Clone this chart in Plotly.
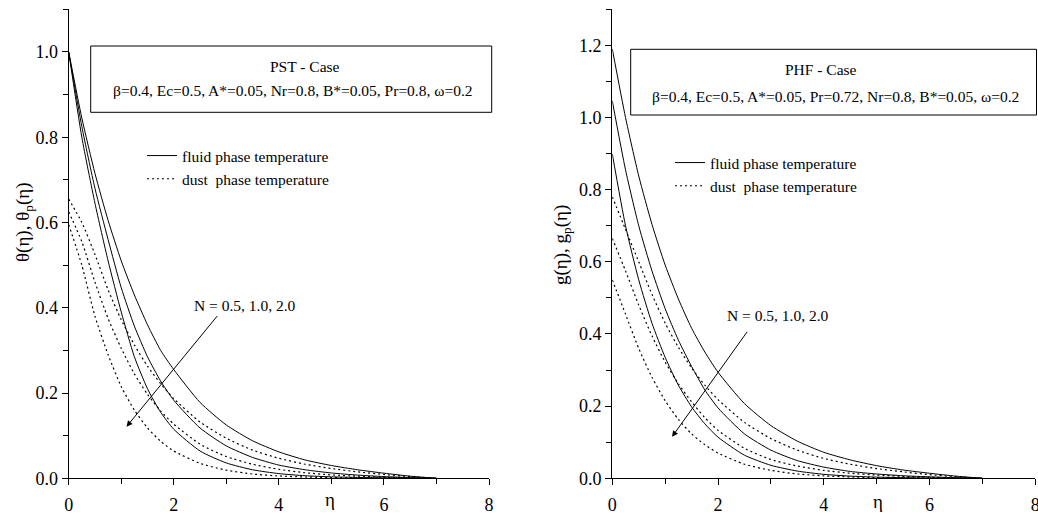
import plotly.graph_objects as go

W, H = 1038, 518

eta = [0, 0.25, 0.5, 0.75, 1.0, 1.25, 1.5, 1.75, 2.0, 2.5, 3.0, 3.5, 4.0, 4.5, 5.0, 5.5, 6.0, 6.5, 7.0]

# PST case (left): fluid theta and dust theta_p for N = 0.5, 1.0, 2.0
theta_N05 = [1.0, 0.845, 0.715, 0.605, 0.51, 0.43, 0.36, 0.30, 0.255, 0.178, 0.125, 0.088, 0.062, 0.043, 0.030, 0.020, 0.012, 0.005, 0.0]
theta_N10 = [1.0, 0.825, 0.68, 0.56, 0.447, 0.357, 0.285, 0.228, 0.183, 0.118, 0.076, 0.049, 0.031, 0.020, 0.0125, 0.0075, 0.004, 0.0017, 0.0]
theta_N20 = [1.0, 0.80, 0.645, 0.51, 0.39, 0.285, 0.21, 0.155, 0.115, 0.064, 0.036, 0.020, 0.011, 0.006, 0.0035, 0.002, 0.001, 0.0004, 0.0]
thetap_N05 = [0.655, 0.60, 0.525, 0.442, 0.372, 0.313, 0.263, 0.222, 0.187, 0.132, 0.094, 0.066, 0.047, 0.033, 0.023, 0.015, 0.009, 0.004, 0.0]
thetap_N10 = [0.625, 0.555, 0.46, 0.375, 0.305, 0.245, 0.197, 0.158, 0.127, 0.080, 0.051, 0.033, 0.021, 0.013, 0.008, 0.005, 0.0025, 0.001, 0.0]
thetap_N20 = [0.595, 0.50, 0.38, 0.29, 0.215, 0.16, 0.118, 0.087, 0.064, 0.035, 0.019, 0.010, 0.0055, 0.003, 0.0016, 0.0008, 0.0004, 0.0001, 0.0]

# PHF case (right): fluid g and dust g_p for N = 0.5, 1.0, 2.0
g_N05 = [1.19, 1.0, 0.838, 0.704, 0.591, 0.497, 0.416, 0.350, 0.294, 0.207, 0.146, 0.103, 0.072, 0.051, 0.035, 0.023, 0.014, 0.006, 0.0]
g_N10 = [1.046, 0.855, 0.70, 0.575, 0.47, 0.383, 0.31, 0.245, 0.195, 0.123, 0.078, 0.049, 0.031, 0.019, 0.012, 0.007, 0.004, 0.0015, 0.0]
g_N20 = [0.899, 0.70, 0.55, 0.43, 0.335, 0.258, 0.198, 0.151, 0.114, 0.064, 0.036, 0.020, 0.011, 0.006, 0.0033, 0.0018, 0.0009, 0.0003, 0.0]
gp_N05 = [0.78, 0.69, 0.60, 0.51, 0.43, 0.363, 0.306, 0.258, 0.218, 0.155, 0.110, 0.078, 0.055, 0.039, 0.027, 0.018, 0.010, 0.0045, 0.0]
gp_N10 = [0.665, 0.575, 0.48, 0.395, 0.322, 0.262, 0.212, 0.168, 0.133, 0.083, 0.052, 0.034, 0.022, 0.014, 0.009, 0.0055, 0.003, 0.0012, 0.0]
gp_N20 = [0.55, 0.455, 0.36, 0.28, 0.215, 0.163, 0.123, 0.093, 0.07, 0.039, 0.022, 0.012, 0.0068, 0.0038, 0.002, 0.0011, 0.0005, 0.0002, 0.0]

left_ticks = [0.0, 0.2, 0.4, 0.6, 0.8, 1.0]
right_ticks = [0.0, 0.2, 0.4, 0.6, 0.8, 1.0, 1.2]
x_ticks = [0, 2, 4, 6, 8]

FONT = "Liberation Serif"
DOT = "2px,3px"

def px(x):
    return x / W

def py(y):
    return 1 - y / H

fig = go.Figure()

def add_set(fluid, dust, xa, ya, leg):
    for i, s in enumerate(fluid):
        fig.add_trace(go.Scatter(x=eta, y=s, mode="lines", xaxis=xa, yaxis=ya,
                                 line=dict(color="black", width=1, shape="spline", smoothing=0.6),
                                 name="fluid phase temperature", legend=leg,
                                 legendgroup=leg + "f", showlegend=(i == 0)))
    for i, s in enumerate(dust):
        fig.add_trace(go.Scatter(x=eta, y=s, mode="lines", xaxis=xa, yaxis=ya,
                                 line=dict(color="black", width=1.2, dash=DOT, shape="spline", smoothing=0.6),
                                 name="dust\u00a0 phase temperature", legend=leg,
                                 legendgroup=leg + "d", showlegend=(i == 0)))

add_set([theta_N05, theta_N10, theta_N20], [thetap_N05, thetap_N10, thetap_N20], "x", "y", "legend")
add_set([g_N05, g_N10, g_N20], [gp_N05, gp_N10, gp_N20], "x2", "y2", "legend2")

axis_common = dict(showline=True, linecolor="black", linewidth=1.3, mirror=False, automargin=False,
                   showgrid=False, zeroline=False, ticks="outside", ticklen=6, tickwidth=1,
                   tickcolor="black", tickfont=dict(family=FONT, size=18, color="black"),
                   ticklabeloverflow="allow")

xdom1 = [px(68.7), px(489)]
xdom2 = [px(612.3), px(1035.3)]
ydom = [py(478.3), py(9.3)]

fig.update_layout(
    template="none",
    width=W, height=H,
    margin=dict(l=0, r=0, t=0, b=0, pad=0),
    paper_bgcolor="white", plot_bgcolor="white",
    font=dict(family=FONT, color="black"),
    xaxis=dict(domain=xdom1, anchor="y", range=[0, 8], tickvals=x_ticks,
               minor=dict(dtick=1, ticks="outside", ticklen=5, tickcolor="black", showgrid=False),
               ticklabelstandoff=4, **axis_common),
    yaxis=dict(domain=ydom, anchor="x", range=[0, 1.1], tickvals=left_ticks, tickformat=".1f",
               minor=dict(dtick=0.1, ticks="outside", ticklen=5, tickcolor="black", showgrid=False), **axis_common),
    xaxis2=dict(domain=xdom2, anchor="y2", range=[0, 8], tickvals=x_ticks,
                minor=dict(dtick=1, ticks="outside", ticklen=5, tickcolor="black", showgrid=False),
                ticklabelstandoff=4, **axis_common),
    yaxis2=dict(domain=ydom, anchor="x2", range=[0, 1.3], tickvals=right_ticks, tickformat=".1f",
                minor=dict(dtick=0.1, ticks="outside", ticklen=5, tickcolor="black", showgrid=False), **axis_common),
    legend=dict(x=px(142), y=py(139), xanchor="left", yanchor="top", bgcolor="rgba(0,0,0,0)",
                font=dict(family=FONT, size=15.5, color="black"), itemwidth=30, tracegroupgap=0),
    legend2=dict(x=px(670), y=py(146), xanchor="left", yanchor="top", bgcolor="rgba(0,0,0,0)",
                 font=dict(family=FONT, size=15.5, color="black"), itemwidth=30, tracegroupgap=0),
    showlegend=True,
)

# parameter boxes
fig.add_shape(type="rect", xref="paper", yref="paper", x0=px(90.7), x1=px(491.7), y0=py(112.3), y1=py(46),
              line=dict(color="black", width=1))
fig.add_shape(type="rect", xref="paper", yref="paper", x0=px(630.7), x1=px(1036.5), y0=py(115), y1=py(49.3),
              line=dict(color="black", width=1))

def note(text, x, y, size=15.5, angle=0):
    fig.add_annotation(text=text, xref="paper", yref="paper", x=px(x), y=py(y), showarrow=False,
                       xanchor="center", yanchor="middle", textangle=angle,
                       font=dict(family=FONT, size=size, color="black"))

note("PST - Case", 305, 66.7)
note("\u03b2=0.4, Ec=0.5, A*=0.05, Nr=0.8, B*=0.05, Pr=0.8, \u03c9=0.2", 293, 90.7)
note("PHF - Case", 821, 70)
note("\u03b2=0.4, Ec=0.5, A*=0.05, Pr=0.72, Nr=0.8, B*=0.05, \u03c9=0.2", 835.5, 96.7)

# axis titles
note("\u03b8(\u03b7), \u03b8<sub>p</sub>(\u03b7)", 24, 222, size=19, angle=-90)
note("g(\u03b7), g<sub>p</sub>(\u03b7)", 562, 245, size=19, angle=-90)
note("\u03b7", 330, 499, size=19)
note("\u03b7", 878, 501, size=19)

# N arrows
note("N = 0.5, 1.0, 2.0", 245, 305, size=15.5)
note("N = 0.5, 1.0, 2.0", 777.5, 315, size=15.5)
fig.add_annotation(x=1.10, y=0.121, ax=2.85, ay=0.384, xref="x", yref="y", axref="x", ayref="y",
                   showarrow=True, arrowhead=2, arrowsize=1.2, arrowwidth=1, arrowcolor="black", text="")
fig.add_annotation(x=1.13, y=0.115, ax=2.57, ay=0.41, xref="x2", yref="y2", axref="x2", ayref="y2",
                   showarrow=True, arrowhead=2, arrowsize=1.2, arrowwidth=1, arrowcolor="black", text="")

fig.write_html("out.html", config={"displayModeBar": False},
               post_script="document.body.style.margin='0';document.body.style.overflow='hidden';")
